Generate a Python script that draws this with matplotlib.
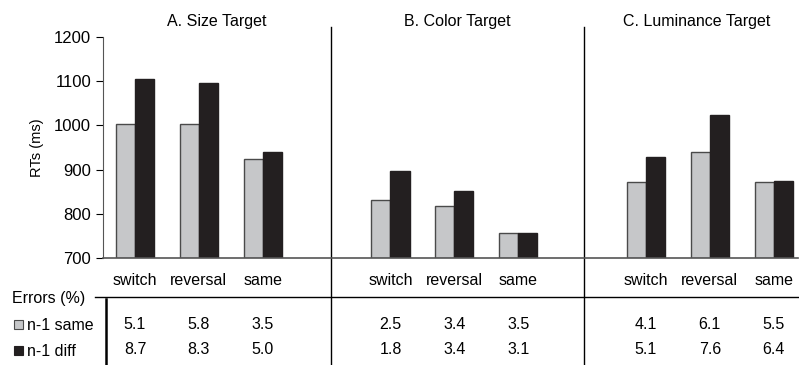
import numpy as np
import matplotlib.pyplot as plt
from matplotlib.transforms import blended_transform_factory

plt.rcParams['font.family'] = ['Liberation Sans', 'DejaVu Sans']
plt.rcParams['font.size'] = 11.5

panels = ["A. Size Target", "B. Color Target", "C. Luminance Target"]
conditions = ["switch", "reversal", "same"]

# reaction times (ms) per panel, per condition
rt_same = [[1003, 1003, 924],
           [831, 818, 757],
           [872, 940, 872]]
rt_diff = [[1106, 1096, 940],
           [896, 852, 757],
           [928, 1023, 875]]

# error rates (%) per panel, per condition
err_same = [[5.1, 5.8, 3.5],
            [2.5, 3.4, 3.5],
            [4.1, 6.1, 5.5]]
err_diff = [[8.7, 8.3, 5.0],
            [1.8, 3.4, 3.1],
            [5.1, 7.6, 6.4]]

light = "#c6c7c9"
dark = "#231f20"
w = 0.30
fs = 11.5

fig = plt.figure(figsize=(7.99, 3.65), dpi=100)
ax = fig.add_axes([103 / 799, (365 - 258) / 365, (798 - 103) / 799, (258 - 37) / 365])

pos = np.array([[g * 4 + i for i in range(3)] for g in range(3)], dtype=float)

for g in range(3):
    ax.bar(pos[g] - w / 2, np.array(rt_same[g]) - 700, w, bottom=700,
           color=light, edgecolor="#4a4a4a", linewidth=1.0)
    ax.bar(pos[g] + w / 2, np.array(rt_diff[g]) - 700, w, bottom=700,
           color=dark, edgecolor=dark, linewidth=1.0)

ax.set_xlim(-0.50, 10.38)
ax.set_ylim(700, 1200)
ax.set_yticks(range(700, 1201, 100))
ax.tick_params(axis='y', direction='out', length=5, labelsize=12, width=0.8)
ax.set_xticks([])
ax.set_ylabel("RTs (ms)", fontsize=10.5, labelpad=7)
for s in ['top', 'right']:
    ax.spines[s].set_visible(False)
ax.spines['left'].set_color("#555555")
ax.spines['bottom'].set_color("#555555")
ax.spines['bottom'].set_linewidth(1.2)

tr = blended_transform_factory(ax.transData, ax.transAxes)

# panel separators running down through the error table
for xs in [3.07, 7.03]:
    ax.plot([xs, xs], [-0.484, 1.045], transform=tr, color="black",
            linewidth=1.0, clip_on=False)

title_x = [1.28, 5.05, 8.8]
for g in range(3):
    ax.text(title_x[g], 1.07, panels[g], transform=tr, ha='center',
            va='center', fontsize=fs)
    for i in range(3):
        ax.text(pos[g][i], -0.104, conditions[i], transform=tr,
                ha='center', va='center', fontsize=fs)
        ax.text(pos[g][i], -0.299, "%.1f" % err_same[g][i], transform=tr,
                ha='center', va='center', fontsize=fs)
        ax.text(pos[g][i], -0.416, "%.1f" % err_diff[g][i], transform=tr,
                ha='center', va='center', fontsize=fs)

# error table frame
ax.plot([-0.63, 10.38], [-0.176, -0.176], transform=tr, color="black",
        linewidth=1.0, clip_on=False)
ax.plot([-0.455, -0.455], [-0.186, -0.484], transform=tr, color="black",
        linewidth=1.8, clip_on=False)

fig.text(12 / 799, 1 - 299 / 365, "Errors (%)", ha='left', va='center',
         fontsize=fs)
fig.text(27 / 799, 1 - 325 / 365, "n-1 same", ha='left', va='center',
         fontsize=fs)
fig.text(27 / 799, 1 - 351 / 365, "n-1 diff", ha='left', va='center',
         fontsize=fs)
sq = 9
fig.add_artist(plt.Rectangle((14 / 799, (365 - 329) / 365), sq / 799, sq / 365,
                             transform=fig.transFigure, facecolor=light,
                             edgecolor="#4a4a4a", linewidth=0.8))
fig.add_artist(plt.Rectangle((14 / 799, (365 - 355) / 365), sq / 799, sq / 365,
                             transform=fig.transFigure, facecolor=dark,
                             edgecolor=dark, linewidth=0.8))

fig.savefig("out.png", dpi=100)
